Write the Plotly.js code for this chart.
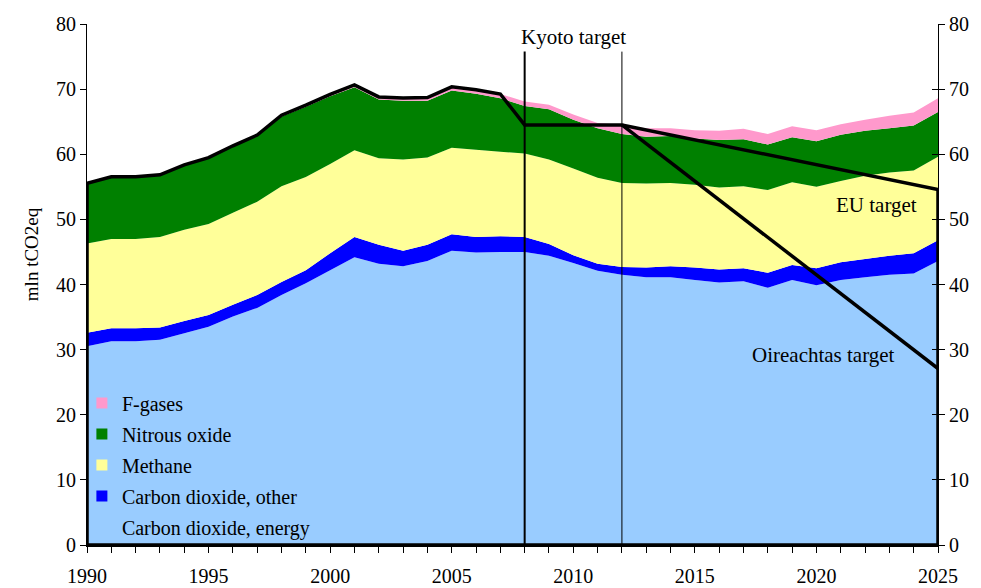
<!DOCTYPE html>
<html><head><meta charset="utf-8">
<script src="https://cdn.plot.ly/plotly-3.0.1.min.js"></script>
<style>html,body{margin:0;padding:0;background:#fff}#chart{width:981px;height:588px}</style>
</head><body><div id="chart"></div>
<script>
const years = [1990,1991,1992,1993,1994,1995,1996,1997,1998,1999,2000,2001,2002,2003,2004,2005,2006,2007,2008,2009,2010,2011,2012,2013,2014,2015,2016,2017,2018,2019,2020,2021,2022,2023,2024,2025];
const co2Energy = [30.5,31.3,31.3,31.5,32.5,33.5,35.1,36.4,38.4,40.2,42.2,44.2,43.2,42.8,43.6,45.2,44.9,45.0,45.0,44.4,43.3,42.1,41.5,41.1,41.1,40.7,40.3,40.5,39.5,40.7,39.9,40.7,41.1,41.5,41.7,43.6];
const co2Other = [2.1,2.0,2.0,1.9,1.9,1.8,1.8,2.0,2.0,2.0,2.6,3.1,2.9,2.4,2.5,2.5,2.4,2.4,2.3,1.8,1.2,1.1,1.2,1.5,1.7,1.9,2.0,2.0,2.3,2.3,2.6,2.7,2.8,2.9,3.1,3.2];
const methane = [13.7,13.7,13.7,13.9,14.0,14.0,14.1,14.3,14.7,14.3,13.7,13.3,13.3,14.0,13.4,13.3,13.4,13.0,12.8,13.0,13.3,13.2,12.9,12.9,12.8,12.7,12.6,12.6,12.7,12.7,12.5,12.5,12.8,12.8,12.7,12.8];
const nitrousOxide = [9.2,9.5,9.5,9.5,9.9,10.1,10.2,10.1,10.7,10.8,10.4,9.7,9.0,9.0,8.7,8.8,8.6,8.2,7.3,7.7,7.5,7.6,7.5,7.2,7.2,7.1,7.3,7.2,7.0,6.9,7.0,7.1,6.9,6.8,6.9,6.9];
const fGases = [0.05,0.05,0.05,0.05,0.06,0.08,0.1,0.15,0.2,0.25,0.3,0.35,0.4,0.45,0.5,0.55,0.6,0.65,0.7,0.7,0.8,0.8,1.4,1.3,1.2,1.3,1.4,1.6,1.6,1.7,1.7,1.6,1.7,1.9,2.0,2.1];

const seriesNames = ['Carbon dioxide, energy','Carbon dioxide, other','Methane','Nitrous oxide','F-gases'];
const seriesColors = ['#99CCFF','#0000FF','#FFFF99','#008000','#FF99CC'];
const seriesValues = [co2Energy, co2Other, methane, nitrousOxide, fGases];

const lastHistoricYear = 2007;
const kyotoYears = [2008, 2012];
const kyotoTarget = 64.5;
const targetYear = 2025;
const euTarget = 54.6;
const oireachtasTarget = 27.1;
const yTicks = [0,10,20,30,40,50,60,70,80];
const xTickLabels = years.map(y => (y % 5 === 0 ? String(y) : ''));

const FONT = 'Liberation Serif, Times New Roman, serif';
const traces = [];
seriesValues.forEach((vals, i) => {
  traces.push({
    x: years, y: vals, type: 'scatter', mode: 'none', stackgroup: 'ghg',
    fillcolor: seriesColors[i], line: {width: 0}, showlegend: false, hoverinfo: 'skip'
  });
});
// legend entries (top to bottom: F-gases ... energy)
for (let i = seriesNames.length - 1; i >= 0; i--) {
  traces.push({
    x: [null], y: [null], type: 'scatter', mode: 'markers', name: seriesNames[i],
    legendgroup: 'g' + i,
    marker: {symbol: 'square', size: 11, color: seriesColors[i]}, showlegend: true
  });
}
// outline: historic totals then Kyoto and EU targets, closed to the axis
const histIdx = years.map((y, i) => i).filter(i => years[i] <= lastHistoricYear);
const totals = histIdx.map(i => seriesValues.reduce((s, v) => s + v[i], 0));
const outX = [years[0]].concat(histIdx.map(i => years[i]), kyotoYears, [targetYear, targetYear, years[0]]);
const outY = [0].concat(totals, [kyotoTarget, kyotoTarget, euTarget, 0, 0]);
traces.push({x: outX, y: outY, type: 'scatter', mode: 'lines', line: {color: '#000', width: 3.5}, showlegend: false, hoverinfo: 'skip'});
traces.push({x: [kyotoYears[1], targetYear], y: [kyotoTarget, oireachtasTarget], type: 'scatter', mode: 'lines', line: {color: '#000', width: 3.5}, showlegend: false, hoverinfo: 'skip'});
traces.push({x: [null], y: [null], yaxis: 'y2', showlegend: false, hoverinfo: 'skip'});
traces.push({x: [null], y: [null], yaxis: 'y3', showlegend: false, hoverinfo: 'skip'});

const yBase = {range: [0, 80], tickvals: yTicks, showgrid: false, zeroline: false, ticks: 'outside', ticklen: 6, tickcolor: '#000', showline: true, linecolor: '#000', linewidth: 1, tickfont: {family: FONT, size: 20, color: '#000'}, fixedrange: true};

const layout = {
  width: 981, height: 588,
  margin: {l: 87, r: 43, t: 24, b: 43, pad: 0},
  paper_bgcolor: '#fff', plot_bgcolor: '#fff',
  font: {family: FONT, color: '#000'},
  showlegend: true,
  legend: {x: -0.006, y: 0.31, xanchor: 'left', yanchor: 'top', bgcolor: 'rgba(0,0,0,0)', font: {family: FONT, size: 20, color: '#000'}, tracegroupgap: 2, traceorder: 'grouped'},
  xaxis: {range: [1990, 2025], tickmode: 'array', tickvals: years, ticktext: xTickLabels, ticks: 'outside', ticklen: 6, tickcolor: '#000', showline: true, linecolor: '#000', linewidth: 2, showgrid: false, zeroline: false, tickfont: {family: FONT, size: 20, color: '#000'}, ticklabelstandoff: 6, fixedrange: true},
  yaxis: Object.assign({}, yBase),
  yaxis2: Object.assign({}, yBase, {overlaying: 'y', side: 'right'}),
  yaxis3: Object.assign({}, yBase, {overlaying: 'y', side: 'right', ticks: 'inside', showticklabels: false}),
  shapes: kyotoYears.map((yr, i) => ({type: 'line', xref: 'x', yref: 'paper', x0: yr, x1: yr, y0: 0, y1: 0.947, line: {color: '#000', width: i === 0 ? 2 : 1}})),
  annotations: [
    {text: 'Kyoto target', x: (kyotoYears[0] + kyotoYears[1]) / 2, y: 78, xref: 'x', yref: 'y', showarrow: false, font: {family: FONT, size: 21, color: '#000'}},
    {text: 'EU target', x: 2024.2, y: 52.2, xref: 'x', yref: 'y', xanchor: 'right', showarrow: false, font: {family: FONT, size: 21, color: '#000'}},
    {text: 'Oireachtas target', x: 2023.3, y: 29.2, xref: 'x', yref: 'y', xanchor: 'right', showarrow: false, font: {family: FONT, size: 21, color: '#000'}},
    {text: 'mln tCO2eq', x: -0.079, y: 44.7, xref: 'paper', yref: 'y', textangle: -90, showarrow: false, font: {family: FONT, size: 19, color: '#000'}}
  ]
};
Plotly.newPlot('chart', traces, layout, {displayModeBar: false, staticPlot: true});
</script></body></html>
